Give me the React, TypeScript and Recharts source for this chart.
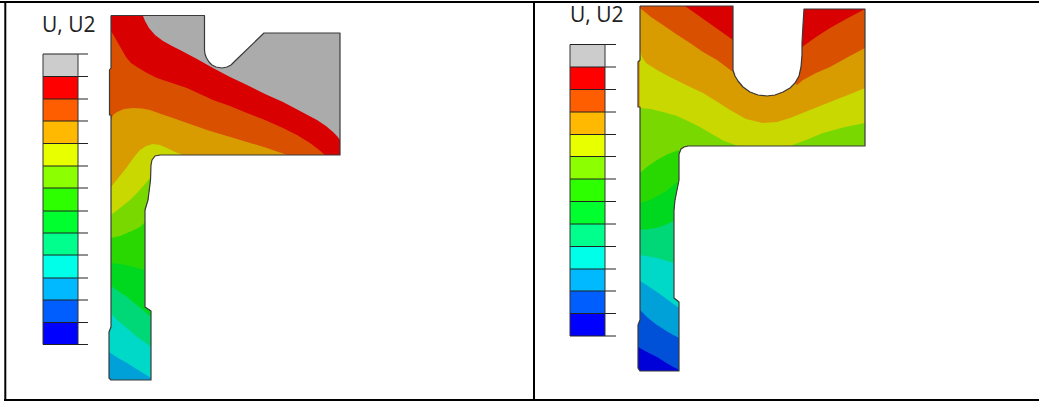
import { ReferenceArea, ReferenceDot, ReferenceLine, Scatter, ScatterChart, XAxis, YAxis } from 'recharts'

type Pt = { x: number; y: number }
const pts = (...v: number[][]): Pt[] => v.map(([x, y]) => ({ x, y }))

const WIDTH = 1039
const HEIGHT = 402

// legend
const legendFills = ['#cccccc', '#ff0000', '#ff5e00', '#ffb900', '#e8ff00', '#8cff00', '#2eff00', '#00ff2e', '#00ff8c', '#00ffe8', '#00b9ff', '#005eff', '#0000ff']
const legendStopsA = [54, 76.5, 99, 121, 143.5, 166, 188, 211, 233, 255, 278, 300, 322.5, 344.5]
const legendStopsB = [44.5, 67, 89.5, 112, 134.5, 156.5, 179, 201.5, 224, 246.5, 269, 291, 313.5, 336]
const contourFills = ['#ababab', '#d80000', '#d85000', '#d89b00', '#c8d800', '#78d800', '#28d800', '#00d820', '#00d878', '#00d8c8', '#00a0d8', '#0050d8', '#0000d8']

// left part, outline pieces
const aTopRight = pts([204.5, 15.5], [204.5, 50], [205, 54], [206.5, 58], [209, 62], [212, 65], [216, 67], [222, 68], [227, 67], [231, 65], [235, 61], [264, 33], [340, 33])
const aLedge = pts([160, 155], [155, 156], [152, 160], [151, 165], [150.5, 180], [148, 200], [145, 210])
const aStem = pts([145, 307], [148, 309], [151, 311])
const aFoot = pts([151, 380], [111, 380], [109, 378], [109, 332], [111, 327])
const aWaist = pts([111, 115], [109.5, 115], [109.5, 70], [111, 68])
const aOutline = [...pts([111, 15.5]), ...aTopRight, ...pts([340, 155]), ...aLedge, ...aStem, ...aFoot, ...aWaist, ...pts([111, 15.5])]

// left part, contour lines from the top down
const aRed = pts([143, 16], [145, 21], [149, 28], [155, 35], [163, 41], [172, 46], [180, 50], [197, 59], [213, 68], [230, 77], [247, 85], [265, 94], [283, 102], [300, 111], [317, 120], [326, 126], [333, 132], [337, 136], [340, 140])
const aOrange = pts([111, 31], [114, 36], [118, 43], [122, 50], [126, 57], [131, 63], [137, 67], [147, 73], [157, 78], [172, 83], [187, 88], [200, 94], [213, 100], [230, 106], [247, 113], [265, 120], [283, 128], [297, 135], [310, 143], [318, 149], [325, 155])
const aAmber = pts([111, 120], [113, 115], [117, 112], [124, 109], [133, 108], [142, 108.5], [150, 110], [161, 114], [173, 118], [190, 124], [207, 130], [227, 136], [247, 142], [267, 148], [287, 155])
const aLime = pts([111, 187], [119, 177], [127, 167], [134, 157], [140, 150], [146, 146], [153, 144], [160, 145], [167, 148], [175, 152], [183, 155])
const aLeaf = pts([111, 215], [120, 208], [130, 200], [138, 192], [145, 184], [150, 178])
const aGrass = pts([111, 238], [120, 236], [127, 233], [134, 230], [140, 227], [145, 222])
const aGreen = pts([111, 263], [120, 264], [130, 266], [145, 270])
const aMint = pts([111, 286], [118, 291], [127, 297], [138, 306], [151, 317])
const aTeal = pts([111, 313], [116, 319], [123, 325], [136, 336], [151, 347])
const aSky = pts([109, 352], [118, 358], [127, 363], [138, 370], [151, 378])

const aBands: Pt[][] = [
  aOutline,
  [...pts([111, 15.5]), ...aRed, ...pts([340, 155]), ...aLedge, ...aStem, ...aFoot, ...aWaist],
  [...aOrange, ...pts([325, 155]), ...aLedge, ...aStem, ...aFoot, ...aWaist],
  [...aAmber, ...aLedge, ...aStem, ...aFoot],
  [...aLime, ...aLedge, ...aStem, ...aFoot],
  [...aLeaf, ...aLedge.slice(4), ...aStem, ...aFoot],
  [...aGrass, ...aStem, ...aFoot],
  [...aGreen, ...aStem, ...aFoot],
  [...aMint, ...aFoot],
  [...aTeal, ...aFoot],
  [...aSky, ...aFoot.slice(0, 3)],
]

// right part, outline pieces
const bWallLeft = pts([733, 6], [733, 70])
const bArc = pts([735, 76], [738, 81], [743, 87], [750, 92], [758, 95], [767, 96], [775, 95], [783, 92], [790, 88], [795, 83])
const bWallRight = pts([799, 76], [801, 67], [802, 55])
const bWallTop = pts([802, 43], [803, 25], [804, 9])
const bLedge = pts([688, 146], [684, 147], [681, 149], [679, 154], [679, 180], [677, 190], [675, 200], [674, 210])
const bStem = pts([674, 298], [679, 302])
const bFoot = pts([679, 371], [640, 371], [638, 368], [638, 325], [640, 320])
const bWaist = pts([640, 107], [638, 107], [638, 62], [640, 60])
const bOutline = [...pts([640, 6]), ...bWallLeft, ...bArc, ...bWallRight, ...bWallTop, ...pts([865, 9], [865, 146]), ...bLedge, ...bStem, ...bFoot, ...bWaist, ...pts([640, 6])]

// right part, contour lines from the top down
const bOrangeLeft = pts([640, 6], [685, 6], [709, 23], [733, 40], [733, 70])
const bOrangeRight = pts([802, 47], [816, 37], [830, 28], [848, 18], [865, 9])
const bAmberLeft = pts([640, 8], [651, 17], [663, 25], [676, 34], [690, 43], [703, 52], [717, 60], [725, 66], [733, 72])
const bAmberRight = pts([797, 85], [803, 80], [816, 73], [830, 67], [848, 57], [865, 48])
const bLime = pts([640, 50], [642, 57], [646, 63], [657, 70], [670, 77], [686, 85], [703, 93], [716, 101], [730, 110], [746, 119], [763, 123], [777, 122], [790, 118], [810, 110], [830, 102], [848, 95], [865, 88])
const bLeafLeft = pts([640, 108], [651, 109], [663, 112], [677, 116], [690, 122], [700, 127], [710, 133], [724, 141], [738, 146])
const bLeafRight = pts([790, 146], [806, 140], [823, 133], [845, 127], [865, 123], [865, 146])
const bGrass = pts([640, 173], [648, 166], [657, 160], [668, 154], [679, 150])
const bGreen = pts([640, 203], [650, 200], [665, 192], [677, 182])
const bMint = pts([640, 230], [650, 229], [660, 227], [674, 221])
const bTeal = pts([640, 255], [657, 258], [674, 263])
const bSky = pts([640, 281], [648, 286], [657, 292], [668, 300], [679, 308])
const bBlue = pts([640, 310], [648, 318], [657, 325], [668, 332], [679, 338])
const bNavy = pts([638, 347], [647, 352], [657, 357], [668, 364], [679, 370])

const bBands: [number, Pt[]][] = [
  [1, bOutline],
  [2, [...bOrangeLeft, ...bArc, ...bWallRight, ...bOrangeRight, ...pts([865, 146]), ...bLedge, ...bStem, ...bFoot, ...bWaist]],
  [3, [...bAmberLeft, ...bArc, ...bAmberRight, ...pts([865, 146]), ...bLedge, ...bStem, ...bFoot, ...bWaist]],
  [4, [...bLime, ...pts([865, 146]), ...bLedge, ...bStem, ...bFoot, ...bWaist.slice(0, 1)]],
  [5, [...bLeafLeft, ...bLedge, ...bStem, ...bFoot]],
  [5, bLeafRight],
  [6, [...bGrass, ...bLedge.slice(4), ...bStem, ...bFoot]],
  [7, [...bGreen, ...bLedge.slice(6), ...bStem, ...bFoot]],
  [8, [...bMint, ...bStem, ...bFoot]],
  [9, [...bTeal, ...bStem, ...bFoot]],
  [10, [...bSky, ...bFoot]],
  [11, [...bBlue, ...bFoot]],
  [12, [...bNavy, ...bFoot.slice(0, 3)]],
]

const NoDot = () => null

function Polygon({ data, fill, stroke }: { data: Pt[]; fill: string; stroke: string }) {
  return (
    <Scatter
      data={data}
      dataKey="y"
      fill="none"
      shape={NoDot}
      line={{ fill, stroke, strokeWidth: stroke === 'none' ? 0 : 1.2, strokeLinejoin: 'round' }}
      isAnimationActive={false}
    />
  )
}

function legend(stops: number[], x1: number, x2: number, tick: number) {
  return [
    ...legendFills.map((fill, i) => (
      <ReferenceArea key={`c${x1}${i}`} x1={x1} x2={x2} y1={stops[i]} y2={stops[i + 1]} fill={fill} fillOpacity={1} stroke="none" />
    )),
    ...stops.map((y) => (
      <ReferenceLine key={`t${x1}${y}`} segment={[{ x: x1, y }, { x: tick, y }]} stroke="#222" strokeWidth={1} />
    )),
    <ReferenceLine key={`l${x1}`} segment={[{ x: x1, y: stops[0] }, { x: x1, y: stops[13] }]} stroke="#333" strokeWidth={1} />,
    <ReferenceLine key={`r${x1}`} segment={[{ x: x2, y: stops[0] }, { x: x2, y: stops[13] }]} stroke="#333" strokeWidth={1} />,
  ]
}

function title(x: number, y: number) {
  return (
    <ReferenceDot
      x={x}
      y={y}
      r={0}
      stroke="none"
      fill="none"
      label={{ value: 'U, U2', position: 'right', offset: 0, fill: '#222', fontSize: 21, fontFamily: 'Open Sans' }}
    />
  )
}

const frame = { stroke: '#000', strokeWidth: 2 }

export default function App() {
  return (
    <div style={{ position: 'absolute', left: 0, top: 0, width: WIDTH, height: HEIGHT, background: '#fff' }}>
      <ScatterChart width={WIDTH} height={HEIGHT} margin={{ top: 0, right: 0, bottom: 0, left: 0 }}>
        <XAxis type="number" dataKey="x" domain={[0, WIDTH]} hide />
        <YAxis type="number" dataKey="y" domain={[0, HEIGHT]} reversed hide />
        {aBands.map((data, i) => (
          <Polygon key={`a${i}`} data={data} fill={contourFills[i]} stroke="none" />
        ))}
        <Polygon data={aOutline} fill="none" stroke="#3a3a3a" />
        {bBands.map(([c, data], i) => (
          <Polygon key={`b${i}`} data={data} fill={contourFills[c]} stroke="none" />
        ))}
        <Polygon data={bOutline} fill="none" stroke="#3a3a3a" />
        {legend(legendStopsA, 43, 78, 88)}
        {legend(legendStopsB, 570, 605, 616)}
        {title(42, 25)}
        {title(570, 15)}
        <ReferenceLine segment={[{ x: 0, y: 2 }, { x: WIDTH, y: 2 }]} {...frame} />
        <ReferenceLine segment={[{ x: 5.3, y: 1 }, { x: 5.3, y: 401 }]} {...frame} />
        <ReferenceLine segment={[{ x: 534, y: 1 }, { x: 534, y: 401 }]} {...frame} />
        <ReferenceLine segment={[{ x: 4, y: 400 }, { x: WIDTH, y: 400 }]} {...frame} />
      </ScatterChart>
    </div>
  )
}
